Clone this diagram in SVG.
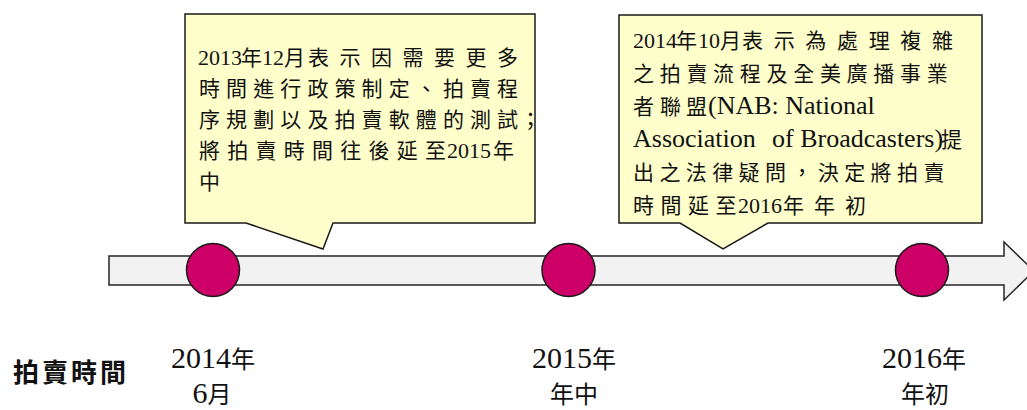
<svg xmlns="http://www.w3.org/2000/svg" width="1027" height="410" viewBox="0 0 1027 410">
<style>
.callout{fill:#ffffcc;stroke:#1a1a1a;stroke-width:1.5;stroke-linejoin:miter}
.bar{fill:#f2f2f2;stroke:#262626;stroke-width:1.5}
.dot{fill:#cc0066;stroke:#1a1a1a;stroke-width:1.5}
text{fill:#111}
.d{font-family:"Liberation Serif","Times New Roman",serif;font-size:22px}
.c{font-family:"Noto Sans CJK TC","Noto Sans CJK SC",sans-serif;font-size:21px}
.l{font-family:"Liberation Serif","Times New Roman",serif;font-size:26px}
.bd{font-family:"Liberation Serif","Times New Roman",serif;font-size:30px}
.bc{font-family:"Noto Sans CJK TC","Noto Sans CJK SC",sans-serif;font-size:24px}
.bb{font-family:"Noto Sans CJK TC","Noto Sans CJK SC",sans-serif;font-size:26px;font-weight:bold}
</style>
<g id="connectors">
<g id="timeline">
<polygon class="bar" points="109,256 1004,256 1004,242 1034,271 1004,300 1004,285 109,285"/>
</g>
</g>
<g id="marker-2014">
<circle class="dot" cx="213" cy="270" r="26.5"/>
</g>
<g id="marker-2015">
<circle class="dot" cx="568.5" cy="270" r="26.5"/>
</g>
<g id="marker-2016">
<circle class="dot" cx="922" cy="270" r="26.5"/>
</g>
<g id="callout-2013">
<path class="callout" d="M185,14 H535 V223 H333 L323,249 L246,223 H185 Z"/>
<text y="65"><tspan class="d" x="198">2013</tspan><tspan class="c" x="241">年</tspan><tspan class="d" x="262">12</tspan><tspan class="c" x="284 308 339.5 371 402.5 434 465.5 497">月表示因需要更多</tspan></text>
<text y="96"><tspan class="c" x="199 226.1 253.2 280.3 307.4 334.5 361.6 388.7 415.8 442.9 470 497.1">時間進行政策制定、拍賣程</tspan></text>
<text y="127"><tspan class="c" x="199 226.1 253.2 280.3 307.4 334.5 361.6 388.7 415.8 442.9 470 497.1 520">序規劃以及拍賣軟體的測試；</tspan></text>
<text y="158"><tspan class="c" x="199 227.25 255.5 283.75 312 340.25 368.5 396.75 425">將拍賣時間往後延至</tspan><tspan class="d" x="447">2015</tspan><tspan class="c" x="493">年</tspan></text>
<text y="189"><tspan class="c" x="199">中</tspan></text>
</g>
<g id="callout-2014">
<path class="callout" d="M619,15 H982 V223 H768 L723,249 L680,223 H619 Z"/>
<text y="48"><tspan class="d" x="633">2014</tspan><tspan class="c" x="676">年</tspan><tspan class="d" x="698">10</tspan><tspan class="c" x="720 742 773.7 805.3 837 868.7 900.3 932">月表示為處理複雜</tspan></text>
<text y="81"><tspan class="c" x="633 659.7 686.4 713.1 739.8 766.5 793.2 819.9 846.6 873.3 900 926.7">之拍賣流程及全美廣播事業</tspan></text>
<text y="114"><tspan class="c" x="633 660 686">者聯盟</tspan><tspan class="l" x="708">(NAB: National</tspan></text>
<text y="147"><tspan class="l" x="633">Association</tspan><tspan class="l" x="772">of Broadcasters)</tspan><tspan class="c" x="941">提</tspan></text>
<text y="180"><tspan class="c" x="633 659.4 685.8 712.2 738.6 765 791.4 817.8 844.2 870.6 897 923.4">出之法律疑問，決定將拍賣</tspan></text>
<text y="213"><tspan class="c" x="633 660.5 688 715.5">時間延至</tspan><tspan class="d" x="738">2016</tspan><tspan class="c" x="783 814 845">年年初</tspan></text>
</g>
<g id="axis-title">
<text y="382"><tspan class="bb" x="13 42 71 100">拍賣時間</tspan></text>
</g>
<g id="label-2014">
<text x="213" y="368" text-anchor="middle"><tspan class="bd">2014</tspan><tspan class="bc">年</tspan></text>
<text x="212" y="403" text-anchor="middle"><tspan class="bd">6</tspan><tspan class="bc">月</tspan></text>
</g>
<g id="label-2015">
<text x="574" y="368" text-anchor="middle"><tspan class="bd">2015</tspan><tspan class="bc">年</tspan></text>
<text x="574" y="403" text-anchor="middle"><tspan class="bc">年中</tspan></text>
</g>
<g id="label-2016">
<text x="924" y="368" text-anchor="middle"><tspan class="bd">2016</tspan><tspan class="bc">年</tspan></text>
<text x="925" y="403" text-anchor="middle"><tspan class="bc">年初</tspan></text>
</g>
</svg>
